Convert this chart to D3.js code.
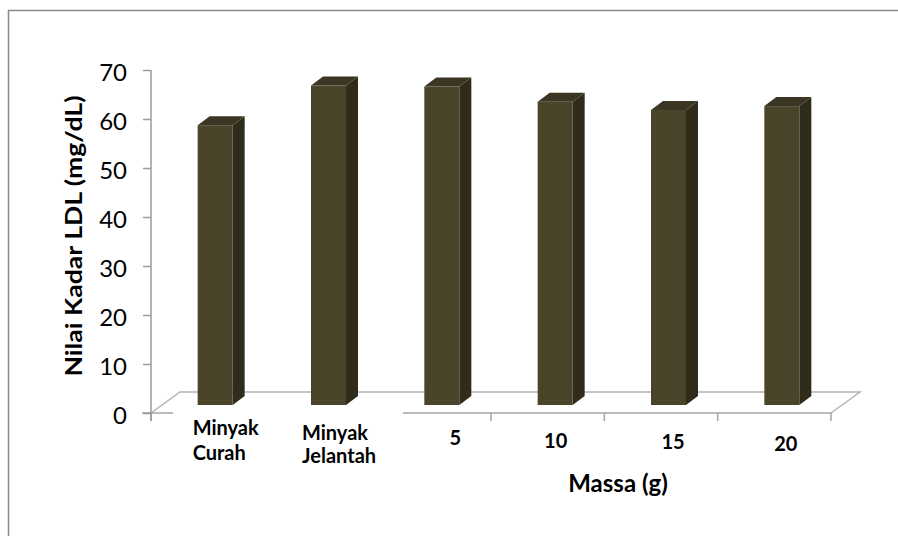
<!DOCTYPE html>
<html>
<head>
<meta charset="utf-8">
<script src="https://cdn.jsdelivr.net/npm/d3@7/dist/d3.min.js"></script>
<style>
  html, body { margin: 0; padding: 0; background: #fff; }
  svg { display: block; }
  text { font-family: Lato, "Liberation Sans", Arial, sans-serif; fill: #000; }
</style>
</head>
<body>
<svg id="chart" width="898" height="536"></svg>
<script>
// ---- data ----
const categories = ["Minyak Curah", "Minyak Jelantah", "5", "10", "15", "20"];
const categoryLines = [["Minyak", "Curah"], ["Minyak", "Jelantah"], ["5"], ["10"], ["15"], ["20"]];
const ldlValues = [57.1, 65.2, 65.0, 61.9, 60.2, 61.0];
const yTicks = [0, 10, 20, 30, 40, 50, 60, 70];
const yTitle = "Nilai Kadar LDL (mg/dL)";
const xTitle = "Massa (g)";

// ---- layout (not data) ----
const plot = { left: 151, right: 831, top: 70, bottom: 413 };
const floorDepth = { dx: 29, dy: -21 };
const barDepth = { dx: 12, dy: -9 };
const barFrontW = 35, barOffsetX = -10, barBaseLift = 8;
const labelLayout = [
  { anchor: "start", dx: -15, y: 435, lh: 25 },
  { anchor: "start", dx: -19, y: 440, lh: 23 },
  { anchor: "middle", dx: 21, y: 445, lh: 0 },
  { anchor: "middle", dx: 8, y: 448, lh: 0 },
  { anchor: "middle", dx: 12, y: 449, lh: 0 },
  { anchor: "middle", dx: 11.5, y: 451, lh: 0 }
];

const svg = d3.select("#chart");

svg.append("rect").attr("x", 8.5).attr("y", 10.5).attr("width", 900).attr("height", 540)
  .attr("fill", "#fff").attr("stroke", "#8a8a8a").attr("stroke-width", 1.5);

const x = d3.scaleBand().domain(categories).range([plot.left, plot.right]).padding(0);
const y = d3.scaleLinear().domain([0, 70]).range([plot.bottom, plot.top]);

const y0 = y(0);
const floor = svg.append("g").attr("fill", "none").attr("stroke", "#b3b3b3").attr("stroke-width", 1.5);
floor.append("path").attr("d",
  `M${plot.left},${y0} L${plot.left + floorDepth.dx},${y0 + floorDepth.dy} ` +
  `L${plot.right + floorDepth.dx},${y0 + floorDepth.dy} L${plot.right},${y0}`);

const xAxisG = svg.append("g").attr("transform", `translate(0,${y0})`);
xAxisG.append("line").attr("x1", plot.left - 9).attr("x2", plot.right).attr("y1", 0).attr("y2", 0)
  .attr("stroke", "#a6a6a6").attr("stroke-width", 1.5);
const bounds = categories.map(c => x(c)).concat([plot.right]);
xAxisG.selectAll("line.tk").data(bounds).join("line").attr("class", "tk")
  .attr("x1", d => d).attr("x2", d => d).attr("y1", 0).attr("y2", 8)
  .attr("stroke", "#a6a6a6").attr("stroke-width", 1.5);

const yAxis = d3.axisLeft(y).tickValues(yTicks).tickSize(8).tickPadding(0).tickFormat(d3.format("d"));
const yAxisG = svg.append("g").attr("transform", `translate(${plot.left},0)`).call(yAxis);
yAxisG.select(".domain").attr("stroke", "#9a9a9a").attr("stroke-width", 1.5)
  .attr("d", `M0,${plot.top}V${plot.bottom + 8}`);
yAxisG.selectAll(".tick line").attr("stroke", "#9a9a9a").attr("stroke-width", 1.5);
yAxisG.selectAll(".tick text").attr("x", -24).attr("dy", "0.42em")
  .style("font-size", "24px").style("font-family", "Lato, Liberation Sans, Arial, sans-serif")
  .attr("fill", "#000");

const bars = svg.append("g");
categories.forEach((c, i) => {
  const v = ldlValues[i];
  const fx = x(c) + x.bandwidth() / 2 + barOffsetX;
  const base = y(0) - barBaseLift;
  const top = y(v) - barBaseLift;
  const g = bars.append("g");
  g.append("path").attr("d",
    `M${fx + barFrontW},${top} L${fx + barFrontW + barDepth.dx},${top + barDepth.dy} ` +
    `L${fx + barFrontW + barDepth.dx},${base + barDepth.dy} L${fx + barFrontW},${base} Z`)
    .attr("fill", "#302c1b");
  g.append("path").attr("d",
    `M${fx},${top} L${fx + barDepth.dx},${top + barDepth.dy} ` +
    `L${fx + barFrontW + barDepth.dx},${top + barDepth.dy} L${fx + barFrontW},${top} Z`)
    .attr("fill", "#3b3623");
  g.append("rect").attr("x", fx).attr("y", top).attr("width", barFrontW).attr("height", base - top)
    .attr("fill", "#4a442b");
});

svg.append("rect").attr("x", 173).attr("y", 411).attr("width", 230).attr("height", 60).attr("fill", "#fff");
svg.append("rect").attr("x", 430).attr("y", 416).attr("width", 60).attr("height", 40).attr("fill", "#fff");

const lab = svg.append("g").style("font-weight", "bold").style("font-size", "20px");
categories.forEach((c, i) => {
  const L = labelLayout[i];
  const cx = x(c) + x.bandwidth() / 2 + L.dx;
  const t = lab.append("text").attr("text-anchor", L.anchor);
  categoryLines[i].forEach((line, j) => {
    t.append("tspan").attr("x", cx).attr("y", L.y + j * L.lh).text(line);
  });
});

svg.append("text").attr("x", 618).attr("y", 492).attr("text-anchor", "middle")
  .style("font-weight", "bold").style("font-size", "24px").text(xTitle);

svg.append("text").attr("transform", "translate(82,236) rotate(-90)").attr("text-anchor", "middle")
  .style("font-weight", "bold").style("font-size", "23px")
  .attr("textLength", 281).attr("lengthAdjust", "spacingAndGlyphs").text(yTitle);
</script>
</body>
</html>
